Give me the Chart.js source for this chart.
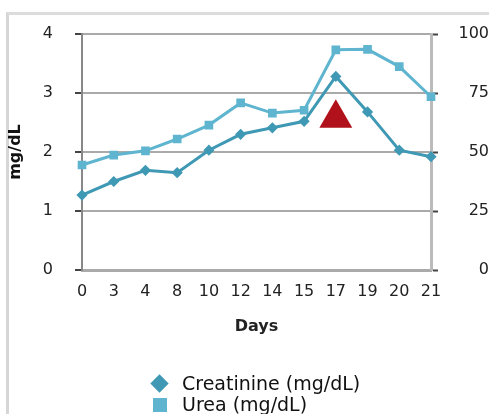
<!DOCTYPE html>
<html lang="en">
<head>
    <meta charset="UTF-8">
    <title>Creatinine and Urea</title>
    <script src="https://cdn.jsdelivr.net/npm/chart.js"></script>
    <style>
        body { margin: 0; background: #fff; }
        #wrap { position: relative; width: 489px; height: 414px; overflow: hidden; }
        #frame { position: absolute; left: 6px; top: 12px; width: 520px; height: 440px;
                 border-left: 3px solid #d6d6d6; border-top: 3px solid #dcdcdc; }
        #chart { position: absolute; left: 0; top: 0; }
        .leg { position: absolute; left: 150px; font: 19px "DejaVu Sans", sans-serif; color: #111; white-space: nowrap; }
        .leg i { position: absolute; top: 5px; }
        .leg span { position: absolute; left: 32px; top: 0; }
    </style>
</head>
<body>
<div id="wrap">
    <div id="frame"></div>
    <canvas id="chart" width="489" height="414"></canvas>
    <div id="legend"></div>
</div>
<script>
    // datos
    const days = ['0', '3', '4', '8', '10', '12', '14', '15', '17', '19', '20', '21'];
    const creatinine = [1.27, 1.5, 1.69, 1.65, 2.03, 2.3, 2.41, 2.52, 3.28, 2.68, 2.03, 1.92];
    const urea = [44.5, 48.7, 50.5, 55.5, 61.4, 70.8, 66.5, 67.7, 93.3, 93.5, 86.2, 73.4];
    const eventMark = [null, null, null, null, null, null, null, null, 2.57, null, null, null];
    const seriesNames = ['Creatinine (mg/dL)', 'Urea (mg/dL)'];
    const leftTicks = [0, 1, 2, 3, 4];
    const rightTicks = [0, 25, 50, 75, 100];

    const creatColor = '#3f99b4';
    const ureaColor = '#5fb5cf';
    const tickFont = { family: 'DejaVu Sans', size: 16 };

    const ctx = document.getElementById('chart').getContext('2d');
    new Chart(ctx, {
        type: 'line',
        data: {
            labels: days,
            datasets: [
                {
                    label: seriesNames[0],
                    data: creatinine,
                    yAxisID: 'y',
                    borderColor: creatColor,
                    backgroundColor: creatColor,
                    borderWidth: 3,
                    pointStyle: 'rectRot',
                    pointRadius: 3.5,
                    tension: 0
                },
                {
                    label: seriesNames[1],
                    data: urea,
                    yAxisID: 'y1',
                    borderColor: ureaColor,
                    backgroundColor: ureaColor,
                    borderWidth: 3,
                    pointStyle: 'rect',
                    pointRadius: 4,
                    tension: 0
                },
                {
                    label: 'event',
                    data: eventMark,
                    yAxisID: 'y',
                    showLine: false,
                    pointStyle: 'triangle',
                    pointRadius: 19,
                    borderWidth: 0,
                    backgroundColor: '#b0111a',
                    borderColor: '#b0111a'
                }
            ]
        },
        options: {
            responsive: false,
            animation: false,
            layout: { padding: { top: 34, left: 0, right: 0, bottom: 74 } },
            plugins: {
                legend: { display: false },
                tooltip: { enabled: false }
            },
            scales: {
                x: {
                    offset: false,
                    grid: { display: false, drawTicks: false },
                    border: { display: true, color: '#aaaaaa', width: 3 },
                    ticks: { color: '#222', font: tickFont, padding: 12, maxRotation: 0, autoSkip: false },
                    title: { display: true, text: 'Days', color: '#222',
                             font: { family: 'DejaVu Sans', size: 16, weight: 'bold' } },
                    afterFit: s => { s.height = 70; }
                },
                y: {
                    position: 'left',
                    min: leftTicks[0],
                    max: leftTicks[leftTicks.length - 1],
                    ticks: { stepSize: 1, color: '#222', font: tickFont, padding: 22 },
                    grid: { color: '#aaaaaa', lineWidth: 2, tickLength: 7, tickColor: '#444', tickWidth: 2 },
                    border: { display: true, color: '#888888', width: 2 },
                    title: { display: true, text: 'mg/dL', color: '#111', padding: { top: 6, bottom: 0 },
                             font: { family: 'DejaVu Sans', size: 16, weight: 'bold' } },
                    afterFit: s => { s.width = 82; }
                },
                y1: {
                    position: 'right',
                    min: rightTicks[0],
                    max: rightTicks[rightTicks.length - 1],
                    ticks: { stepSize: 25, color: '#222', font: tickFont, crossAlign: 'far' },
                    grid: { drawOnChartArea: false, tickLength: 7, tickColor: '#444', tickWidth: 2 },
                    border: { display: true, color: '#bbbbbb', width: 3 },
                    afterFit: s => { s.width = 58; }
                }
            }
        }
    });

    // leyenda en dos filas, como en el original
    const legend = document.getElementById('legend');
    const markers = [
        { color: creatColor, rot: 'rotate(45deg)', size: 13, left: 3 },
        { color: ureaColor, rot: 'none', size: 14, left: 3 }
    ];
    seriesNames.forEach((name, i) => {
        const row = document.createElement('div');
        row.className = 'leg';
        row.style.top = (372 + i * 21) + 'px';
        const m = document.createElement('i');
        m.style.background = markers[i].color;
        m.style.transform = markers[i].rot;
        m.style.width = markers[i].size + 'px';
        m.style.height = markers[i].size + 'px';
        m.style.left = markers[i].left + 'px';
        const t = document.createElement('span');
        t.textContent = name;
        row.appendChild(m);
        row.appendChild(t);
        legend.appendChild(row);
    });
</script>
</body>
</html>
